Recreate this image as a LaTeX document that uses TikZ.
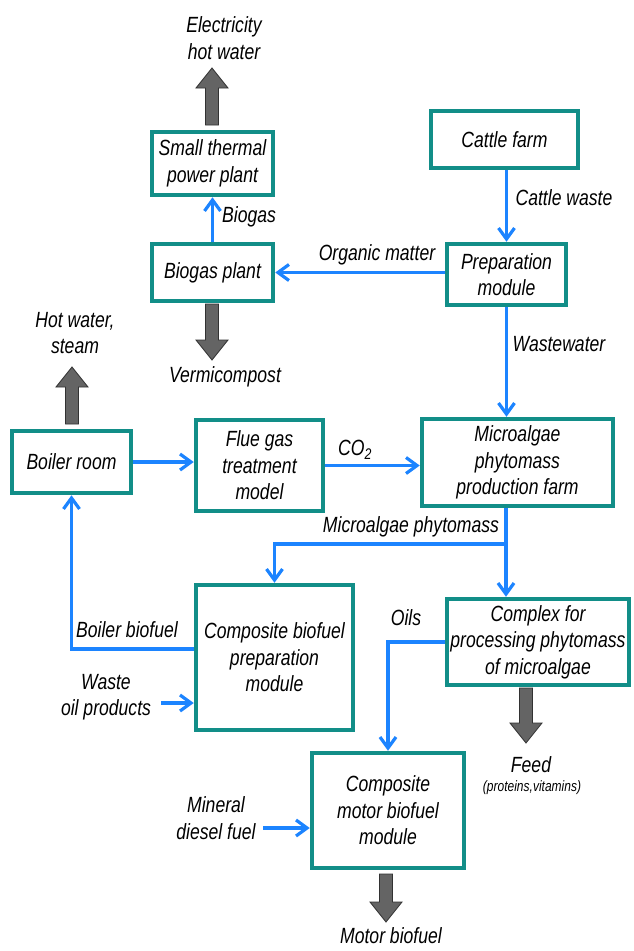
\documentclass[tikz,border=0pt]{standalone}
\usepackage{fontspec}
\setmainfont{Liberation Sans}[FakeStretch=0.8]
\usetikzlibrary{arrows.meta,calc}
\definecolor{teal1}{RGB}{18,142,136}
\definecolor{flowblue}{RGB}{28,132,255}
\definecolor{gfill}{RGB}{100,100,100}
\definecolor{gline}{RGB}{50,50,50}
\tikzset{
 box/.style={draw=teal1, line width=4.5pt, fill=white, align=center, inner sep=0pt},
 flow/.style={draw=flowblue, line width=3.2pt, -{Straight Barb[length=11pt,width=16pt]}},
 flowline/.style={draw=flowblue, line width=3.2pt},
 lbl/.style={align=center, inner sep=0pt},
 garrow/.style={fill=gfill, draw=gline, line width=0.8pt},
 every node/.style={font=\itshape\fontsize{22}{26.5}\selectfont}
}
\newcommand\blkarrow[3]{%
 \pgfmathsetmacro\hd{#3>#2 ? -20 : 20}%
 \draw[garrow] (#1-6.5,#2) -- (#1-6.5,#3+\hd) -- (#1-16,#3+\hd) -- (#1,#3) -- (#1+16,#3+\hd) -- (#1+6.5,#3+\hd) -- (#1+6.5,#2) -- cycle;}
\begin{document}
\begin{tikzpicture}[x=1pt,y=-1pt]
\fill[white] (0,0) rectangle (633,951);
\useasboundingbox (0,0) rectangle (633,951);

% boxes
\node[box, minimum width=121pt, minimum height=63pt] (therm) at (212.5,163.5) {Small thermal\\power plant};
\node[box, minimum width=121pt, minimum height=57pt] (biogas) at (212.5,272.5) {Biogas plant};
\node[box, minimum width=147pt, minimum height=57pt] (cattle) at (504.5,139.5) {Cattle farm};
\node[box, minimum width=119pt, minimum height=61pt] (prep) at (506.5,274.5) {Preparation\\module};
\node[box, minimum width=119pt, minimum height=62pt] (boiler) at (71.5,462) {Boiler room};
\node[box, minimum width=127pt, minimum height=91pt] (flue) at (259.5,465.5) {Flue gas\\treatment\\model};
\node[box, minimum width=191pt, minimum height=87pt] (micro) at (517.5,462.5) {Microalgae\\phytomass\\production farm};
\node[box, minimum width=182pt, minimum height=86pt] (complex) at (538,642) {Complex for\\processing phytomass\\of microalgae};
\node[box, minimum width=157pt, minimum height=145pt] (cbprep) at (274.5,657.5) {Composite biofuel\\preparation\\module};
\node[box, minimum width=152pt, minimum height=115pt] (motor) at (388,810.5) {Composite\\motor biofuel\\module};

% output labels
\node[lbl] (elec) at (224,38) {Electricity\\hot water};
\node[lbl] (verm) at (225,377) {Vermicompost};
\node[lbl] (hotw) at (75,333) {Hot water,\\steam};
\node[lbl] (feed) at (531,765) {Feed};
\node[lbl, font=\itshape\fontsize{15}{17}\selectfont] (prot) at (532,788) {(proteins,vitamins)};
\node[lbl] (motorbf) at (391,936) {Motor biofuel};

% block arrows
\blkarrow{212}{125}{68}
\blkarrow{212}{304}{360}
\blkarrow{72}{424}{367}
\blkarrow{526}{688}{743}
\blkarrow{386}{874}{922}

% flow labels
\node[lbl, anchor=west] (lbiogas) at (222,217) {Biogas};
\node[lbl] (lorg) at (377,255) {Organic matter};
\node[lbl] (lcw) at (564,198) {Cattle waste};
\node[lbl] (lww) at (559,344) {Wastewater};
\node[lbl] (lco) at (355,450) {CO\textsubscript{2}};
\node[lbl] (lmp) at (411,527) {Microalgae phytomass};
\node[lbl] (loils) at (406,618) {Oils};
\node[lbl] (lbb) at (127,630) {Boiler biofuel};
\node[lbl] (lwo) at (106,697) {Waste\\oil products};
\node[lbl] (lmd) at (216,818) {Mineral\\diesel fuel};

% free ends
\coordinate (wo) at (161,703);
\coordinate (md) at (263,828);
\coordinate (j) at (506,544);

% connectors
\draw[flow] (biogas.north) -- (therm.south);
\draw[flow] (prep.west |- biogas.east) -- (biogas.east);
\draw[flow] (cattle.south -| prep.north) -- (prep.north);
\draw[flow] (prep.south) -- (prep.south |- micro.north);
\draw[flow] (boiler.east) -- (boiler.east -| flue.west);
\draw[flow] (flue.east) -- (flue.east -| micro.west);
\draw[flowline] (micro.south -| j) -- (j);
\draw[flow] (j) -| (cbprep.north);
\draw[flow] (j) -- (j |- complex.north);
\draw[flow] (complex.west) -| (motor.north);
\draw[flow] ([yshift=8.5pt]cbprep.west) -| (boiler.south);
\draw[flow] (wo) -- (wo -| cbprep.west);
\draw[flow] (md) -- (md -| motor.west);
\end{tikzpicture}
\end{document}
